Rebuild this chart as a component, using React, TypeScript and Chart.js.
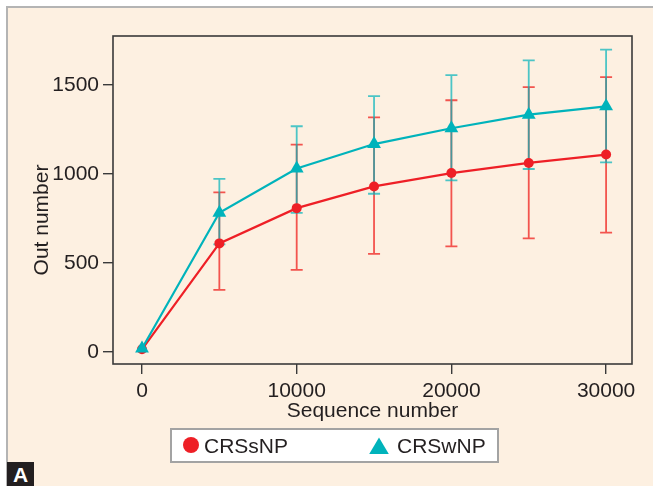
import { useEffect, useRef } from 'react';
import { Chart, registerables } from 'chart.js';

Chart.register(...registerables);

// Rarefaction curves: mean OTU count with range bars at each sequencing depth
const sequenceNumbers = [0, 5000, 10000, 15000, 20000, 25000, 30000];
const crssnpMean = [15, 610, 808, 930, 1005, 1062, 1109];
const crssnpLow = [null, 349, 461, 551, 593, 638, 671];
const crssnpHigh = [null, 897, 1165, 1318, 1414, 1488, 1544];
const crswnpMean = [20, 782, 1031, 1168, 1257, 1333, 1380];
const crswnpLow = [null, 605, 782, 889, 964, 1028, 1065];
const crswnpHigh = [null, 972, 1268, 1437, 1555, 1638, 1698];
const xTicks = [0, 10000, 20000, 30000];
const yTicks = [0, 500, 1000, 1500];
const seriesNames = ['CRSsNP', 'CRSwNP'];

const RED = '#ee1f26';
const TEAL = '#00b3bb';
const RED_BAR = 'rgba(240, 40, 36, 0.78)';
const TEAL_BAR = 'rgba(0, 178, 186, 0.7)';
const INK = '#231f20';
const FONT = '"Liberation Sans", Arial, sans-serif';

const errorBars = [
  { low: crssnpLow, high: crssnpHigh, color: RED_BAR },
  { low: crswnpLow, high: crswnpHigh, color: TEAL_BAR },
];

const decorations = {
  id: 'decorations',
  beforeDatasetsDraw(chart: any) {
    const { ctx, scales } = chart;
    const xs = scales.x;
    const ys = scales.y;
    ctx.save();
    ctx.lineWidth = 1.8;
    errorBars.forEach((bar) => {
      ctx.strokeStyle = bar.color;
      sequenceNumbers.forEach((sx, i) => {
        const lo = bar.low[i];
        const hi = bar.high[i];
        if (lo == null || hi == null) return;
        const px = xs.getPixelForValue(sx);
        const py1 = ys.getPixelForValue(lo);
        const py2 = ys.getPixelForValue(hi);
        ctx.beginPath();
        ctx.moveTo(px, py1);
        ctx.lineTo(px, py2);
        ctx.moveTo(px - 6, py1);
        ctx.lineTo(px + 6, py1);
        ctx.moveTo(px - 6, py2);
        ctx.lineTo(px + 6, py2);
        ctx.stroke();
      });
    });
    ctx.restore();
  },
  afterDraw(chart: any) {
    const { ctx, chartArea } = chart;
    ctx.save();
    // plot frame
    ctx.strokeStyle = '#3a3a3a';
    ctx.lineWidth = 1.6;
    ctx.strokeRect(
      chartArea.left,
      chartArea.top,
      chartArea.right - chartArea.left,
      chartArea.bottom - chartArea.top
    );

    // y axis title
    ctx.fillStyle = INK;
    ctx.font = `21px ${FONT}`;
    ctx.translate(47.5, 220);
    ctx.rotate(-Math.PI / 2);
    ctx.textAlign = 'center';
    ctx.textBaseline = 'alphabetic';
    ctx.fillText('Out number', 0, 0);
    ctx.restore();

    // legend box
    ctx.save();
    ctx.fillStyle = '#ffffff';
    ctx.fillRect(171, 429, 327, 33);
    ctx.strokeStyle = '#a3a3a3';
    ctx.lineWidth = 2;
    ctx.strokeRect(171, 429, 327, 33);

    ctx.fillStyle = RED;
    ctx.beginPath();
    ctx.arc(191, 445, 8, 0, Math.PI * 2);
    ctx.fill();

    ctx.fillStyle = TEAL;
    ctx.beginPath();
    ctx.moveTo(379, 437.5);
    ctx.lineTo(388.8, 454);
    ctx.lineTo(369.2, 454);
    ctx.closePath();
    ctx.fill();

    ctx.fillStyle = INK;
    ctx.font = `21px ${FONT}`;
    ctx.textAlign = 'left';
    ctx.textBaseline = 'alphabetic';
    ctx.fillText(seriesNames[0], 204, 453);
    ctx.fillText(seriesNames[1], 397, 453);
    ctx.restore();
  },
};

export default function App() {
  const canvasRef = useRef<HTMLCanvasElement | null>(null);

  useEffect(() => {
    if (!canvasRef.current) return;
    const chart = new Chart(canvasRef.current, {
      type: 'line',
      data: {
        datasets: [
          {
            label: seriesNames[0],
            data: sequenceNumbers.map((x, i) => ({ x, y: crssnpMean[i] })),
            borderColor: RED,
            backgroundColor: RED,
            borderWidth: 2.2,
            pointStyle: 'circle',
            pointRadius: 5,
            pointBorderWidth: 0,
            order: 1,
          },
          {
            label: seriesNames[1],
            data: sequenceNumbers.map((x, i) => ({ x, y: crswnpMean[i] })),
            borderColor: TEAL,
            backgroundColor: TEAL,
            borderWidth: 2.2,
            pointStyle: 'triangle',
            pointRadius: 8,
            pointBorderWidth: 0,
            order: 0,
          },
        ],
      },
      options: {
        animation: false,
        responsive: false,
        devicePixelRatio: 1,
        layout: { padding: { left: 0, top: 36, right: 21, bottom: 62 } },
        plugins: {
          legend: { display: false },
          tooltip: { enabled: false },
        },
        scales: {
          x: {
            type: 'linear',
            min: -1875,
            max: 31675,
            afterFit: (s: any) => {
              s.height = 60;
            },
            afterBuildTicks: (s: any) => {
              s.ticks = xTicks.map((value) => ({ value }));
            },
            grid: {
              drawOnChartArea: false,
              drawTicks: true,
              tickLength: 10,
              color: '#3a3a3a',
              lineWidth: 1.4,
            },
            border: { display: false },
            ticks: {
              padding: 5,
              color: INK,
              font: { size: 21, family: FONT },
              maxRotation: 0,
              callback: (v: any) => String(v),
            },
            title: {
              display: true,
              text: 'Sequence number',
              color: INK,
              font: { size: 21, family: FONT },
              padding: 0,
            },
          },
          y: {
            type: 'linear',
            min: -67.4,
            max: 1775,
            afterFit: (s: any) => {
              s.width = 113;
            },
            afterBuildTicks: (s: any) => {
              s.ticks = yTicks.map((value) => ({ value }));
            },
            grid: {
              drawOnChartArea: false,
              drawTicks: true,
              tickLength: 10,
              color: '#3a3a3a',
              lineWidth: 1.4,
            },
            border: { display: false },
            ticks: {
              padding: 4,
              color: INK,
              font: { size: 21, family: FONT },
              callback: (v: any) => String(v),
            },
          },
        },
      },
      plugins: [decorations],
    });
    return () => chart.destroy();
  }, []);

  return (
    <div
      style={{
        position: 'fixed',
        left: 0,
        top: 0,
        width: 653,
        height: 486,
        background: '#ffffff',
        overflow: 'hidden',
      }}
    >
      <div
        style={{
          position: 'absolute',
          left: 6,
          top: 6,
          right: 0,
          bottom: 0,
          background: '#fdf0e1',
          borderLeft: '2px solid #b4b4b4',
          borderTop: '2px solid #b4b4b4',
        }}
      />
      <canvas
        ref={canvasRef}
        width={653}
        height={486}
        style={{ position: 'absolute', left: 0, top: 0, width: 653, height: 486 }}
      />
      <div
        style={{
          position: 'absolute',
          left: 7,
          top: 462,
          width: 27,
          height: 24,
          background: '#231f20',
          color: '#ffffff',
          fontFamily: FONT,
          fontWeight: 'bold',
          fontSize: 21,
          lineHeight: '26px',
          textAlign: 'center',
        }}
      >
        A
      </div>
    </div>
  );
}
